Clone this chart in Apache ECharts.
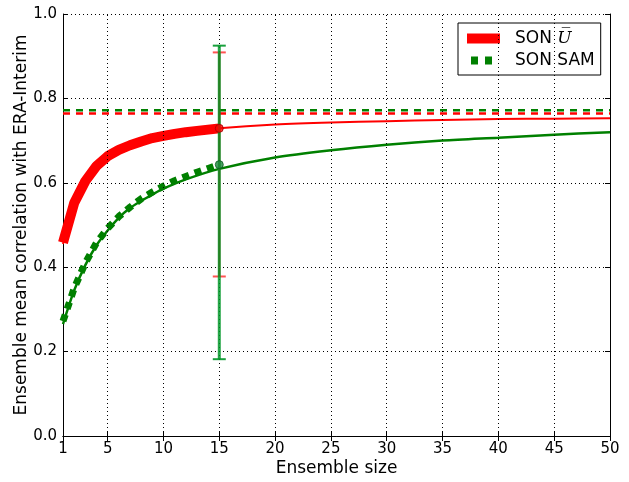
<!DOCTYPE html>
<html>
<head>
<meta charset="utf-8">
<script src="https://cdn.jsdelivr.net/npm/echarts@6/dist/echarts.min.js"></script>
<style>
  html, body { margin: 0; padding: 0; background: #fff; }
  #chart { width: 629px; height: 482px; }
</style>
</head>
<body>
<div id="chart"></div>
<script>
// ensemble sizes for the fitted curves
const nFull = [1, 2, 3, 4, 5, 6, 7, 8, 9, 10, 12, 15, 20, 25, 30, 35, 40, 45, 50]
const uTheory = [0.455, 0.55, 0.603, 0.64, 0.663, 0.678, 0.689, 0.698, 0.706, 0.711, 0.72, 0.729, 0.738, 0.743, 0.746, 0.749, 0.751, 0.752, 0.753]
const samTheory = [0.265, 0.345, 0.405, 0.452, 0.487, 0.517, 0.54, 0.557, 0.572, 0.586, 0.608, 0.633, 0.66, 0.677, 0.69, 0.70, 0.707, 0.714, 0.72]

// sampled ensemble means (1..15 members)
const nSample = [1, 2, 3, 4, 5, 6, 7, 8, 9, 10, 11, 12, 13, 14, 15]
const uSample = [0.458, 0.552, 0.604, 0.64, 0.663, 0.678, 0.689, 0.698, 0.706, 0.711, 0.716, 0.72, 0.723, 0.726, 0.729]
const samSample = [0.272, 0.35, 0.41, 0.458, 0.492, 0.52, 0.542, 0.562, 0.578, 0.592, 0.605, 0.615, 0.625, 0.634, 0.643]

// asymptotic (infinite ensemble) values
const uLimit = 0.764
const samLimit = 0.772

// error bars at n = 15: [n, low, high]
const uErr = [15, 0.378, 0.909]
const samErr = [15, 0.182, 0.925]

const xTicks = [1, 5, 10, 15, 20, 25, 30, 35, 40, 45, 50]

const RED = '#ff0000'
const GREEN = '#008000'
const FONT = 'DejaVu Sans'

const chart = echarts.init(document.getElementById('chart'))

const pairs = (xs, ys) => xs.map((x, i) => [x, ys[i]])

// 误差棒：竖线 + 上下帽
function errorBar(color, lineWidth, capColor) {
  return function (params, api) {
    const x = api.value(0)
    const lo = api.coord([x, api.value(1)])
    const hi = api.coord([x, api.value(2)])
    const half = 6.5
    return {
      type: 'group',
      children: [
        { type: 'line', shape: { x1: lo[0], y1: lo[1], x2: hi[0], y2: hi[1] }, style: { stroke: color, lineWidth: lineWidth } },
        { type: 'line', shape: { x1: lo[0] - half, y1: lo[1], x2: lo[0] + half, y2: lo[1] }, style: { stroke: capColor, lineWidth: 2 } },
        { type: 'line', shape: { x1: hi[0] - half, y1: hi[1], x2: hi[0] + half, y2: hi[1] }, style: { stroke: capColor, lineWidth: 2 } }
      ]
    }
  }
}

const tickStyle = { show: true, inside: true, length: 5, lineStyle: { color: '#000', width: 1 } }

const option = {
  animation: false,
  backgroundColor: '#fff',
  grid: { left: 63, right: 19, top: 14, bottom: 37 },
  legend: {
    orient: 'vertical',
    left: 458,
    top: 23,
    padding: [7, 6, 6, 9],
    itemGap: 5,
    itemWidth: 33,
    itemHeight: 10,
    borderColor: '#000',
    borderWidth: 1,
    borderRadius: 0,
    backgroundColor: '#fff',
    data: [
      { name: 'SON U', icon: 'rect', itemStyle: { color: RED } },
      { name: 'SON SAM', icon: 'path://M0,0M33,10M4,1h7v8h-7zM18,1h7v8h-7z', itemStyle: { color: GREEN } }
    ],
    formatter: function (name) {
      return name === 'SON U' ? 'SON {u|U\u0305}' : name
    },
    textStyle: {
      fontFamily: FONT,
      fontSize: 17,
      color: '#000',
      padding: [0, 0, 0, 10],
      rich: {
        u: { fontFamily: 'DejaVu Serif', fontStyle: 'italic', fontSize: 17, color: '#000' }
      }
    }
  },
  xAxis: [
    {
      type: 'value',
      min: 1,
      max: 50,
      name: 'Ensemble size',
      nameLocation: 'middle',
      nameGap: 24,
      nameMoveOverlap: false,
      nameTextStyle: { fontFamily: FONT, fontSize: 17, color: '#000' },
      axisLine: { show: true, lineStyle: { color: '#000', width: 1 } },
      axisTick: Object.assign({}, tickStyle, { customValues: xTicks }),
      axisLabel: { customValues: xTicks, fontFamily: FONT, fontSize: 15, color: '#000', margin: 6 },
      splitLine: { show: false }
    },
    {
      type: 'value',
      min: 1,
      max: 50,
      position: 'top',
      axisLine: { show: true, lineStyle: { color: '#000', width: 1 } },
      axisTick: Object.assign({}, tickStyle, { customValues: xTicks }),
      axisLabel: { show: false },
      splitLine: { show: false }
    }
  ],
  yAxis: [
    {
      type: 'value',
      min: 0,
      max: 1,
      interval: 0.2,
      name: 'Ensemble mean correlation with ERA-Interim',
      nameLocation: 'middle',
      nameGap: 33,
      nameMoveOverlap: false,
      nameTextStyle: { fontFamily: FONT, fontSize: 17, color: '#000' },
      axisLine: { show: true, lineStyle: { color: '#000', width: 1 } },
      axisTick: tickStyle,
      axisLabel: { formatter: v => v.toFixed(1), fontFamily: FONT, fontSize: 15, color: '#000', margin: 6 },
      splitLine: { show: true, lineStyle: { color: '#000', type: [1, 3], width: 1 } }
    },
    {
      type: 'value',
      min: 0,
      max: 1,
      interval: 0.2,
      position: 'right',
      axisLine: { show: true, lineStyle: { color: '#000', width: 1 } },
      axisTick: tickStyle,
      axisLabel: { show: false },
      splitLine: { show: false }
    }
  ],
  series: [
    {
      // vertical grid lines at the x ticks
      type: 'line',
      data: [],
      silent: true,
      markLine: {
        symbol: 'none',
        silent: true,
        label: { show: false },
        lineStyle: { color: '#000', type: [1, 3], width: 1 },
        data: xTicks.slice(1, -1).map(v => ({ xAxis: v }))
      }
    },
    {
      name: 'SON U fit',
      type: 'line',
      data: pairs(nFull, uTheory),
      smooth: 0.3,
      showSymbol: false,
      lineStyle: { color: RED, width: 2 },
      z: 3
    },
    {
      name: 'SON SAM fit',
      type: 'line',
      data: pairs(nFull, samTheory),
      smooth: 0.3,
      showSymbol: false,
      lineStyle: { color: GREEN, width: 2.5 },
      z: 3
    },
    {
      name: 'SON U limit',
      type: 'line',
      data: [[1, uLimit], [50, uLimit]],
      showSymbol: false,
      lineStyle: { color: RED, width: 2.5, type: [7, 6] },
      z: 3
    },
    {
      name: 'SON SAM limit',
      type: 'line',
      data: [[1, samLimit], [50, samLimit]],
      showSymbol: false,
      lineStyle: { color: GREEN, width: 2.5, type: [7, 6] },
      z: 3
    },
    {
      name: 'SON U',
      type: 'line',
      data: pairs(nSample, uSample),
      showSymbol: false,
      itemStyle: { color: RED },
      lineStyle: { color: RED, width: 10, cap: 'butt', join: 'round' },
      z: 4
    },
    {
      name: 'SON SAM',
      type: 'line',
      data: pairs(nSample, samSample),
      showSymbol: false,
      itemStyle: { color: GREEN },
      lineStyle: { color: GREEN, width: 7, type: [7, 6], cap: 'butt' },
      z: 4
    },
    {
      name: 'SON U err',
      type: 'custom',
      renderItem: errorBar(RED, 2, 'rgba(255,40,40,0.8)'),
      data: [uErr],
      z: 5
    },
    {
      name: 'SON SAM err',
      type: 'custom',
      renderItem: errorBar('rgba(0,150,40,0.85)', 3, 'rgba(0,150,40,0.9)'),
      data: [samErr],
      z: 6
    },
    {
      name: 'n15 markers',
      type: 'scatter',
      symbol: 'circle',
      symbolSize: 8,
      data: [
        { value: [uErr[0], uSample[uSample.length - 1]], itemStyle: { color: RED, borderColor: '#a00000', borderWidth: 1 } },
        { value: [samErr[0], samSample[samSample.length - 1]], itemStyle: { color: '#1a8a3a', borderColor: '#0a5a20', borderWidth: 1 } }
      ],
      z: 7
    }
  ]
}

chart.setOption(option)
</script>
</body>
</html>
